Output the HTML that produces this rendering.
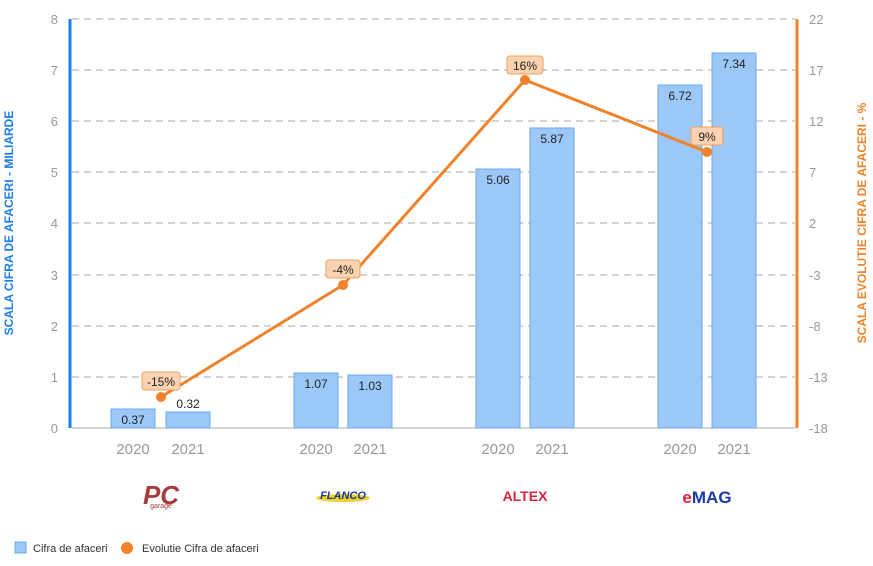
<!DOCTYPE html><html><head><style>body{margin:0;background:#fff}svg{font-family:"Liberation Sans",Arial,sans-serif}</style></head><body>
<svg width="873" height="561" viewBox="0 0 873 561">
<g stroke="#bbb" stroke-dasharray="7,5" stroke-width="1.2">
<line x1="72" x2="795" y1="19" y2="19"/><line x1="72" x2="795" y1="70" y2="70"/><line x1="72" x2="795" y1="121" y2="121"/><line x1="72" x2="795" y1="172" y2="172"/><line x1="72" x2="795" y1="223" y2="223"/><line x1="72" x2="795" y1="275" y2="275"/><line x1="72" x2="795" y1="326" y2="326"/><line x1="72" x2="795" y1="377" y2="377"/>
</g>
<line x1="72" x2="795" y1="428" y2="428" stroke="#aaa"/>
<g fill="#9cc8f8" stroke="#6aa9ef">
<rect x="111" y="409" width="44" height="19"/><rect x="166" y="412" width="44" height="16"/>
<rect x="294" y="373" width="44" height="55"/><rect x="348" y="375" width="44" height="53"/>
<rect x="476" y="169" width="44" height="259"/><rect x="530" y="128" width="44" height="300"/>
<rect x="658" y="85" width="44" height="343"/><rect x="712" y="53" width="44" height="375"/>
</g>
<g font-size="12" fill="#222" text-anchor="middle">
<text x="133" y="424">0.37</text><text x="188" y="408">0.32</text>
<text x="316" y="388">1.07</text><text x="370" y="390">1.03</text>
<text x="498" y="184">5.06</text><text x="552" y="143">5.87</text>
<text x="680" y="100">6.72</text><text x="734" y="68">7.34</text>
</g>
<line x1="70" x2="70" y1="19" y2="428" stroke="#1a7ef0" stroke-width="3"/>
<line x1="797" x2="797" y1="19" y2="428" stroke="#f0832a" stroke-width="3"/>
<g font-size="13" fill="#999" text-anchor="end">
<text x="58" y="24">8</text><text x="58" y="75">7</text><text x="58" y="126">6</text><text x="58" y="177">5</text><text x="58" y="228">4</text><text x="58" y="280">3</text><text x="58" y="331">2</text><text x="58" y="382">1</text><text x="58" y="433">0</text>
</g>
<g font-size="13" fill="#999">
<text x="809" y="24">22</text><text x="809" y="75">17</text><text x="809" y="126">12</text><text x="809" y="177">7</text><text x="809" y="228">2</text><text x="809" y="280">-3</text><text x="809" y="331">-8</text><text x="809" y="382">-13</text><text x="809" y="433">-18</text>
</g>
<text transform="translate(13,223) rotate(-90)" font-size="12" font-weight="bold" fill="#1a7ef0" text-anchor="middle">SCALA CIFRA DE AFACERI - MILIARDE</text>
<text transform="translate(866,223) rotate(-90)" font-size="12" font-weight="bold" fill="#f0832a" text-anchor="middle">SCALA EVOLUTIE CIFRA DE AFACERI - %</text>
<polyline points="161,397 343,285 525,80 707,152" fill="none" stroke="#f0832a" stroke-width="3"/>
<g fill="#f0832a"><circle cx="161" cy="397" r="5"/><circle cx="343" cy="285" r="5"/><circle cx="525" cy="80" r="5"/><circle cx="707" cy="152" r="5"/></g>
<g fill="#fbd3b0" stroke="#f0a060">
<rect x="142" y="372" width="38" height="18" rx="3"/><rect x="326" y="260" width="34" height="18" rx="3"/><rect x="507" y="56" width="36" height="18" rx="3"/><rect x="691" y="127" width="32" height="18" rx="3"/>
</g>
<g font-size="12" fill="#222" text-anchor="middle">
<text x="161" y="386">-15%</text><text x="343" y="274">-4%</text><text x="525" y="70">16%</text><text x="707" y="141">9%</text>
</g>
<g font-size="15" fill="#999" text-anchor="middle">
<text x="133" y="454">2020</text><text x="188" y="454">2021</text>
<text x="316" y="454">2020</text><text x="370" y="454">2021</text>
<text x="498" y="454">2020</text><text x="552" y="454">2021</text>
<text x="680" y="454">2020</text><text x="734" y="454">2021</text>
</g>
<text x="161" y="504" font-size="26" font-weight="bold" fill="#a83a3a" text-anchor="middle" font-style="italic">PC</text>
<text x="161" y="508" font-size="7" fill="#a83a3a" text-anchor="middle">garage</text>
<ellipse cx="343" cy="498" rx="27" ry="4" fill="#f3d030"/>
<text x="343" y="499" font-size="11" font-weight="bold" font-style="italic" fill="#1a3a9a" text-anchor="middle">FLANCO</text>
<text x="525" y="501" font-size="14" font-weight="bold" fill="#d8253a" text-anchor="middle">ALTEX</text>
<text x="707" y="503" font-size="17" font-weight="bold" fill="#1a3aa8" text-anchor="middle"><tspan fill="#e01e3a">e</tspan>MAG</text>
<rect x="15" y="542" width="11" height="11" fill="#9cc8f8" stroke="#6aa9ef"/>
<text x="33" y="552" font-size="11" fill="#333">Cifra de afaceri</text>
<circle cx="127" cy="548" r="6" fill="#f0832a"/>
<text x="142" y="552" font-size="11" fill="#333">Evolutie Cifra de afaceri</text>
</svg></body></html>
